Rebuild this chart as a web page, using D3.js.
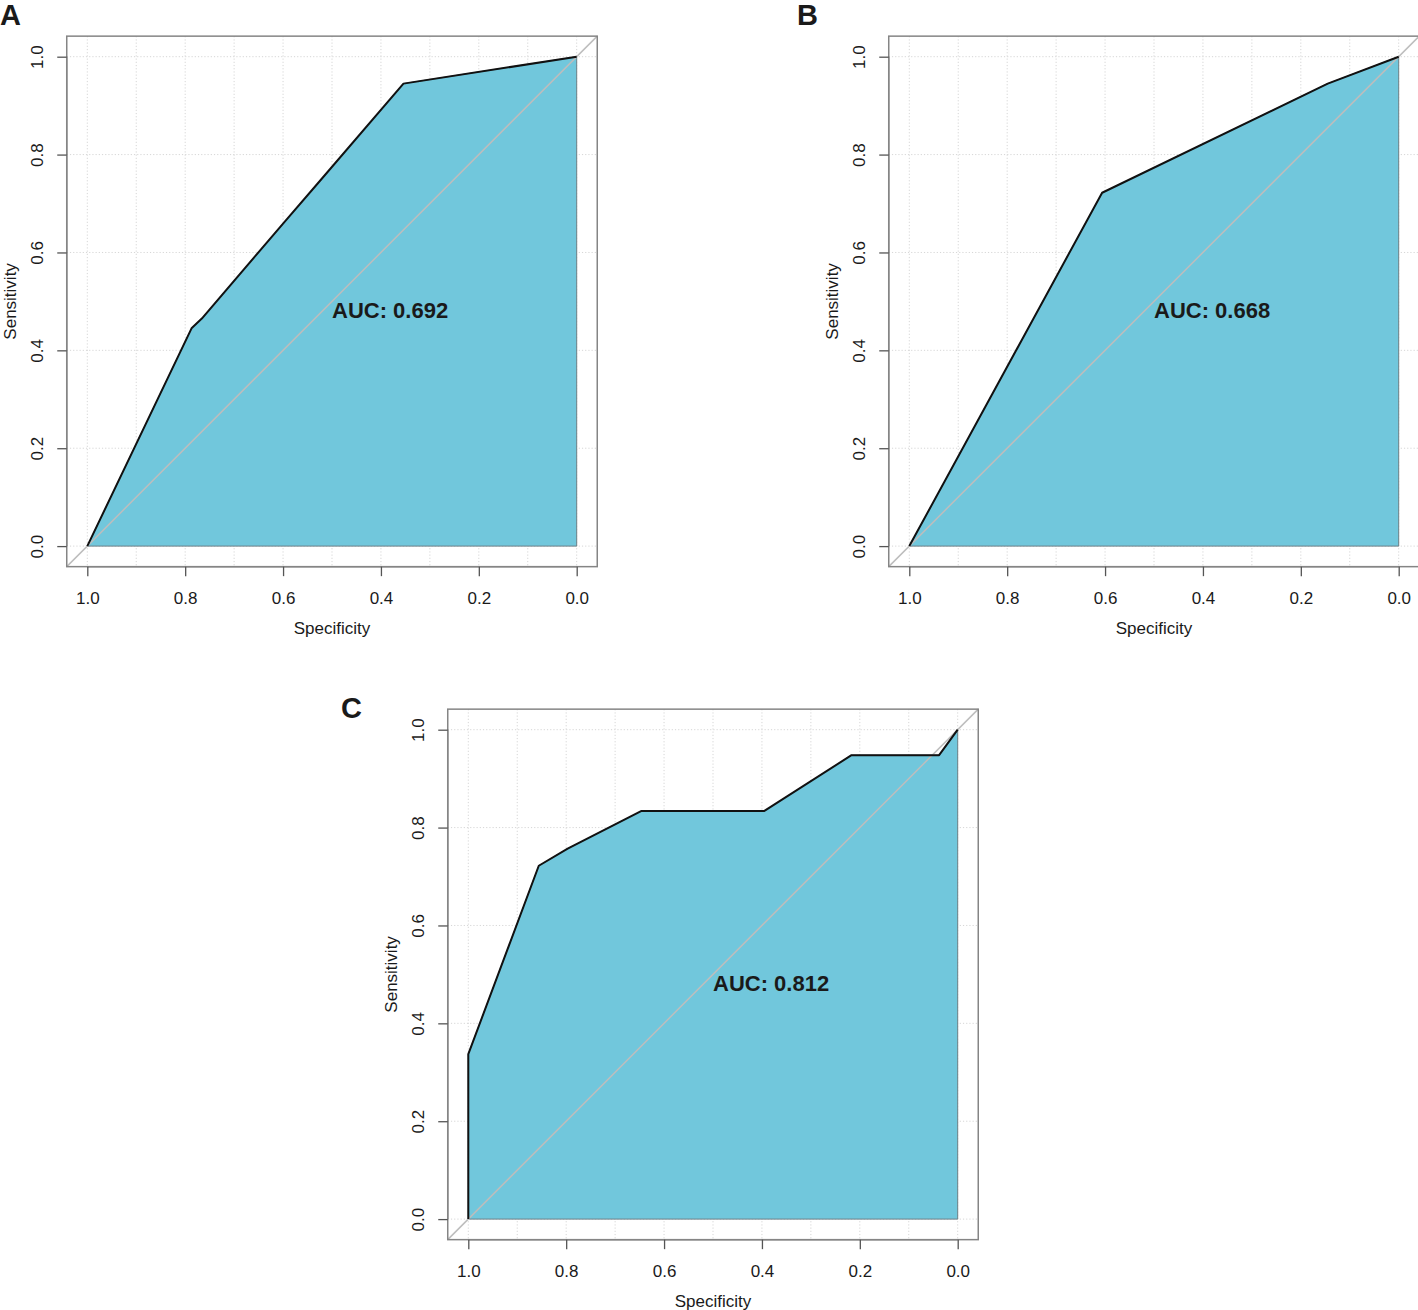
<!DOCTYPE html>
<html>
<head>
<meta charset="utf-8">
<script src="https://cdn.jsdelivr.net/npm/d3@7"></script>
<style>
  html, body { margin: 0; padding: 0; background: #fff; }
  svg { display: block; }
  text { font-family: "Liberation Sans", Arial, Helvetica, sans-serif; fill: #1a1a1a; }
</style>
</head>
<body>
<svg id="chart" width="1418" height="1310"></svg>
<script>
// ---- data ----
const panelLetters = ["A", "B", "C"];
const aucValues = ["0.692", "0.668", "0.812"];

const specA = [1, 0.787, 0.766, 0.600, 0.524, 0.354, 0];
const sensA = [0, 0.445, 0.465, 0.659, 0.747, 0.945, 1];

const specB = [1, 0.606, 0.145, 0];
const sensB = [0, 0.722, 0.945, 1];

const specC = [1, 1, 0.856, 0.797, 0.646, 0.395, 0.217, 0.038, 0];
const sensC = [0, 0.337, 0.722, 0.757, 0.834, 0.834, 0.948, 0.948, 1];

const xTicks = [1.0, 0.8, 0.6, 0.4, 0.2, 0.0];
const yTicks = [0.0, 0.2, 0.4, 0.6, 0.8, 1.0];
const xGrid = [1.0, 0.9, 0.8, 0.7, 0.6, 0.5, 0.4, 0.3, 0.2, 0.1, 0.0];
const yGrid = [0.0, 0.2, 0.4, 0.6, 0.8, 1.0];

// ---- layout ----
const svg = d3.select("#chart");
const W = 489.4;          // data span in px (both axes)
const ext = 0.042;        // plot box extension beyond [0,1]
const panels = [
  { dx: 87.3, dy: 56.7, spec: specA, sens: sensA, letter: [0, 25] },
  { dx: 909.3, dy: 56.7, spec: specB, sens: sensB, letter: [797, 25] },
  { dx: 468.3, dy: 729.7, spec: specC, sens: sensC, letter: [341, 718] }
];

const fill = "#71C7DC";
const boxCol = "#858585";

panels.forEach((p, i) => {
  const x = d3.scaleLinear().domain([1, 0]).range([p.dx, p.dx + W]);
  const y = d3.scaleLinear().domain([0, 1]).range([p.dy + W, p.dy]);
  const bx0 = x(1 + ext), bx1 = x(-ext), by0 = y(1 + ext), by1 = y(-ext);
  const g = svg.append("g");

  // grid
  g.selectAll(".vg").data(xGrid).enter().append("line")
    .attr("x1", d => x(d)).attr("x2", d => x(d))
    .attr("y1", by0).attr("y2", by1)
    .attr("stroke", "#d6d6d6").attr("stroke-width", 1).attr("stroke-dasharray", "1.2,2");
  g.selectAll(".hg").data(yGrid).enter().append("line")
    .attr("y1", d => y(d)).attr("y2", d => y(d))
    .attr("x1", bx0).attr("x2", bx1)
    .attr("stroke", "#d6d6d6").attr("stroke-width", 1).attr("stroke-dasharray", "1.2,2");

  // AUC polygon
  const pts = p.spec.map((s, k) => [x(s), y(p.sens[k])]);
  const poly = pts.concat([[x(0), y(0)]]);
  g.append("polygon")
    .attr("points", poly.map(d => d.join(",")).join(" "))
    .attr("fill", fill).attr("stroke", "#6a7f86").attr("stroke-width", 1);

  // diagonal (clipped to box)
  g.append("line")
    .attr("x1", x(1 + ext)).attr("y1", y(-ext))
    .attr("x2", x(-ext)).attr("y2", y(1 + ext))
    .attr("stroke", "#bdbdbd").attr("stroke-width", 1.5);

  // ROC curve
  g.append("path")
    .attr("d", d3.line()(pts))
    .attr("fill", "none").attr("stroke", "#111").attr("stroke-width", 2)
    .attr("stroke-linejoin", "round");

  // box
  g.append("rect")
    .attr("x", bx0).attr("y", by0).attr("width", bx1 - bx0).attr("height", by1 - by0)
    .attr("fill", "none").attr("stroke", boxCol).attr("stroke-width", 1.5);

  // x axis
  const xa = g.append("g").attr("transform", `translate(0,${by1})`)
    .call(d3.axisBottom(x).tickValues(xTicks).tickSize(9.5).tickFormat(d3.format(".1f")));
  xa.select(".domain").attr("stroke", boxCol).attr("stroke-width", 1.5)
    .attr("d", `M${x(1)},0H${x(0)}`);
  xa.selectAll(".tick line").attr("stroke", "#555").attr("stroke-width", 1.3);
  xa.selectAll(".tick text").attr("y", 31).attr("dy", "0.35em")
    .style("font-size", "17px").style("font-family", "'Liberation Sans', Arial, sans-serif").attr("fill", "#1a1a1a");

  // y axis
  const ya = g.append("g").attr("transform", `translate(${bx0},0)`)
    .call(d3.axisLeft(y).tickValues(yTicks).tickSize(9.5).tickFormat(d3.format(".1f")));
  ya.select(".domain").attr("stroke", boxCol).attr("stroke-width", 1.5)
    .attr("d", `M0,${y(0)}V${y(1)}`);
  ya.selectAll(".tick line").attr("stroke", "#555").attr("stroke-width", 1.3);
  ya.selectAll(".tick text")
    .attr("x", 0).attr("y", 0).attr("dy", "0.35em")
    .attr("text-anchor", "middle")
    .attr("transform", "translate(-30,0) rotate(-90)")
    .style("font-size", "17px").style("font-family", "'Liberation Sans', Arial, sans-serif").attr("fill", "#1a1a1a");

  // axis titles
  g.append("text").attr("x", (x(1) + x(0)) / 2).attr("y", by1 + 61).attr("dy", "0.35em")
    .attr("text-anchor", "middle").style("font-size", "17px").text("Specificity");
  g.append("text")
    .attr("transform", `translate(${bx0 - 57},${(y(0) + y(1)) / 2}) rotate(-90)`)
    .attr("dy", "0.35em").attr("text-anchor", "middle").style("font-size", "17px").text("Sensitivity");

  // AUC label: left-aligned at spec 0.5, top at sens 0.5
  g.append("text").attr("x", x(0.5)).attr("y", y(0.5)).attr("dy", "0.74em")
    .style("font-size", "22px").style("font-weight", "bold").text("AUC: " + aucValues[i]);

  // panel letter
  svg.append("text").attr("x", p.letter[0]).attr("y", p.letter[1])
    .style("font-size", "29px").style("font-weight", "bold").attr("fill", "#000").text(panelLetters[i]);
});
</script>
</body>
</html>
